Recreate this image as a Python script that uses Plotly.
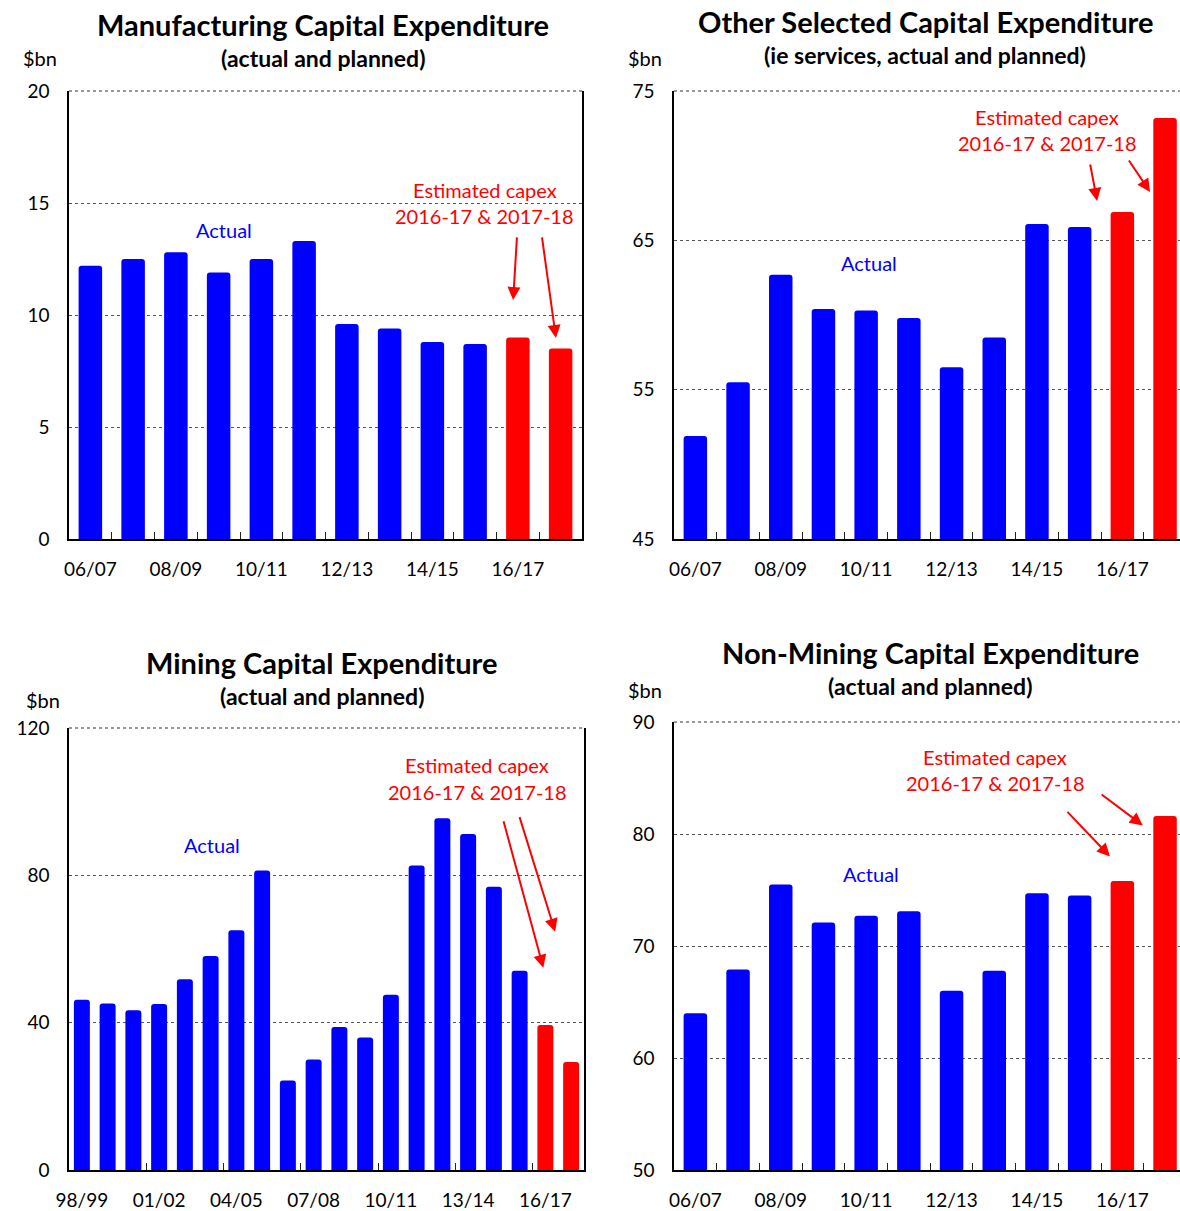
import plotly.graph_objects as go

FONT = "Lato"
BLUE = "#0000FF"
RED = "#FF0000"
GRID = "#555555"

# Financial years shown in the 12-year panels
short_years = ["06/07", "07/08", "08/09", "09/10", "10/11", "11/12",
               "12/13", "13/14", "14/15", "15/16", "16/17", "17/18"]
# Financial years shown in the mining panel
long_years = ["98/99", "99/00", "00/01", "01/02", "02/03", "03/04", "04/05",
              "05/06", "06/07", "07/08", "08/09", "09/10", "10/11", "11/12",
              "12/13", "13/14", "14/15", "15/16", "16/17", "17/18"]

# Capital expenditure, $bn (last two years are estimates)
manufacturing = [12.2, 12.5, 12.8, 11.9, 12.5, 13.3, 9.6, 9.4, 8.8, 8.7, 9.0, 8.5]
other_selected = [51.9, 55.5, 62.7, 60.4, 60.3, 59.8, 56.5, 58.5, 66.1, 65.9, 66.9, 73.2]
mining = [46.2, 45.2, 43.4, 45.1, 51.8, 58.1, 65.1, 81.3, 24.3, 30.0, 38.8, 36.0,
          47.6, 82.7, 95.5, 91.2, 76.9, 54.1, 39.4, 29.3]
non_mining = [64.0, 67.9, 75.5, 72.1, 72.7, 73.1, 66.0, 67.8, 74.7, 74.5, 75.8, 81.6]
n_estimates = 2

H = 1211.0
W = 1180.0


def py(p):
    return 1 - p / H


def px(p):
    return p / W


panels = [
    dict(years=short_years, values=manufacturing,
         title="Manufacturing Capital Expenditure", subtitle="(actual and planned)",
         tx=323, ty=24, sy=58, unit=(40, 58),
         yrange=[0, 20], dtick=5, label_step=2, tick_step=1, width=0.55,
         xdom=[px(69), px(582)], ydom=[py(539), py(91)], xmax=11.5, box=True,
         actual=(3.13, 13.8), est=(9.23, 15.58, 14.42),
         arrows=[((9.98, 13.53), (9.89, 10.67)), ((10.56, 13.53), (10.89, 8.97))]),
    dict(years=short_years, values=other_selected,
         title="Other Selected Capital Expenditure", subtitle="(ie services, actual and planned)",
         tx=925, ty=21, sy=55, unit=(645, 58),
         yrange=[45, 75], dtick=10, label_step=2, tick_step=1, width=0.55,
         xdom=[px(674), 1.0], ydom=[py(539), py(91)], xmax=11.35, box=False,
         actual=(4.07, 63.5), est=(8.24, 73.27, 71.52),
         arrows=[((9.24, 70.18), (9.41, 67.64)), ((10.13, 70.45), (10.65, 68.24))]),
    dict(years=long_years, values=mining,
         title="Mining Capital Expenditure", subtitle="(actual and planned)",
         tx=322, ty=662, sy=696, unit=(43, 700),
         yrange=[0, 120], dtick=40, label_step=3, tick_step=3, width=0.62,
         xdom=[px(69), px(584)], ydom=[py(1170), py(728)], xmax=19.5, box=True,
         actual=(5.06, 88.3), est=(15.35, 110.05, 102.7),
         arrows=[((16.36, 95.1), (17.92, 54.9)), ((16.98, 96.2), (18.38, 64.7))]),
    dict(years=short_years, values=non_mining,
         title="Non-Mining Capital Expenditure", subtitle="(actual and planned)",
         tx=930, ty=653, sy=686, unit=(645, 690),
         yrange=[50, 90], dtick=10, label_step=2, tick_step=1, width=0.55,
         xdom=[px(674), 1.0], ydom=[py(1170), py(722)], xmax=11.35, box=False,
         actual=(4.11, 76.4), est=(7.02, 86.85, 84.53),
         arrows=[((8.68, 82.11), (9.71, 78.0)), ((9.48, 83.63), (10.48, 80.77))]),
]

fig = go.Figure()
annotations = []
shapes = []
layout = {}
n_panels = len(panels)

for i, p in enumerate(panels, start=1):
    sfx = "" if i == 1 else str(i)
    xref, yref = "x" + sfx, "y" + sfx
    tick_ref = "x" + str(n_panels + i)
    n = len(p["years"])
    pos = list(range(n))
    colors = [BLUE] * (n - n_estimates) + [RED] * n_estimates

    fig.add_trace(go.Bar(
        x=pos, y=p["values"], width=p["width"],
        marker=dict(color=colors, line=dict(width=0)),
        customdata=p["years"],
        hovertemplate="%{customdata}: $%{y:.1f}bn<extra></extra>",
        xaxis=xref, yaxis=yref, showlegend=False,
    ))
    # empty trace so the tick-mark companion axis gets drawn
    fig.add_trace(go.Scatter(x=[None], y=[None], mode="markers", xaxis=tick_ref,
                             yaxis=yref, showlegend=False, hoverinfo="skip"))

    layout["xaxis" + sfx] = dict(
        domain=p["xdom"], anchor=yref, range=[-0.5, p["xmax"]],
        tickmode="array", tickvals=pos[::p["label_step"]],
        ticktext=p["years"][::p["label_step"]],
        ticks="", showgrid=False, zeroline=False, automargin=False,
        showline=True, linecolor="black", linewidth=1.5,
        tickfont=dict(family=FONT, size=19, color="black"),
        ticklabelstandoff=12,
        fixedrange=True,
    )
    # Unlabelled companion axis carrying the small inward marks on the
    # boundaries between financial years
    boundaries = [k - 0.5 for k in range(p["tick_step"], n, p["tick_step"])]
    layout["xaxis" + tick_ref[1:]] = dict(
        overlaying=xref, anchor=yref, side="bottom", range=[-0.5, p["xmax"]],
        tickmode="array", tickvals=boundaries, showticklabels=False,
        ticks="inside", ticklen=7, tickwidth=1, tickcolor="#222222",
        showgrid=False, zeroline=False, showline=False, automargin=False,
        fixedrange=True,
    )
    layout["yaxis" + sfx] = dict(
        domain=p["ydom"], anchor=xref, range=p["yrange"],
        tick0=p["yrange"][0], dtick=p["dtick"], ticks="",
        showgrid=True, gridcolor=GRID, griddash="dot", gridwidth=1,
        zeroline=False, showline=True, linecolor="black", linewidth=1.5,
        mirror=p["box"], automargin=False,
        tickfont=dict(family=FONT, size=19, color="black"),
        ticklabelstandoff=14,
        fixedrange=True,
    )

    # Dotted rule along the top of the plot area, at the axis maximum
    shapes.append(dict(type="line", xref=xref + " domain", yref=yref + " domain",
                       x0=0, x1=1, y0=1, y1=1,
                       line=dict(color="#333333", width=1.2, dash="dot")))

    # Panel titles and unit label
    annotations.append(dict(x=px(p["tx"]), y=py(p["ty"]), xref="paper", yref="paper",
                            text="<b>" + p["title"] + "</b>", showarrow=False,
                            font=dict(family=FONT, size=29, color="black"),
                            xanchor="center", yanchor="middle"))
    annotations.append(dict(x=px(p["tx"]), y=py(p["sy"]), xref="paper", yref="paper",
                            text="<b>" + p["subtitle"] + "</b>", showarrow=False,
                            font=dict(family=FONT, size=23, color="black"),
                            xanchor="center", yanchor="middle"))
    annotations.append(dict(x=px(p["unit"][0]), y=py(p["unit"][1]), xref="paper", yref="paper",
                            text="$bn", showarrow=False,
                            font=dict(family=FONT, size=20, color="black"),
                            xanchor="center", yanchor="middle"))

    # In-chart labels
    ax_, ay_ = p["actual"]
    annotations.append(dict(x=ax_, y=ay_, xref=xref, yref=yref, text="Actual",
                            showarrow=False, font=dict(family=FONT, size=20, color=BLUE),
                            xanchor="center", yanchor="middle"))
    ex, ey1, ey2 = p["est"]
    annotations.append(dict(x=ex, y=ey1, xref=xref, yref=yref, text="Estimated capex",
                            showarrow=False, font=dict(family=FONT, size=20, color=RED),
                            xanchor="center", yanchor="middle"))
    annotations.append(dict(x=ex, y=ey2, xref=xref, yref=yref, text="2016-17 &amp; 2017-18",
                            showarrow=False, font=dict(family=FONT, size=20, color=RED),
                            xanchor="center", yanchor="middle"))
    for (tx_, ty_), (hx, hy) in p["arrows"]:
        annotations.append(dict(x=hx, y=hy, ax=tx_, ay=ty_, xref=xref, yref=yref,
                                axref=xref, ayref=yref, text="", showarrow=True,
                                arrowhead=2, arrowsize=1.3, arrowwidth=2,
                                arrowcolor=RED, standoff=0, startstandoff=0))

fig.update_layout(
    width=1180, height=1211,
    margin=dict(l=0, r=0, t=0, b=0, autoexpand=False),
    paper_bgcolor="white", plot_bgcolor="white",
    barcornerradius=3,
    showlegend=False,
    annotations=annotations,
    shapes=shapes,
    font=dict(family=FONT),
    **layout,
)

fig.write_html("out.html")
